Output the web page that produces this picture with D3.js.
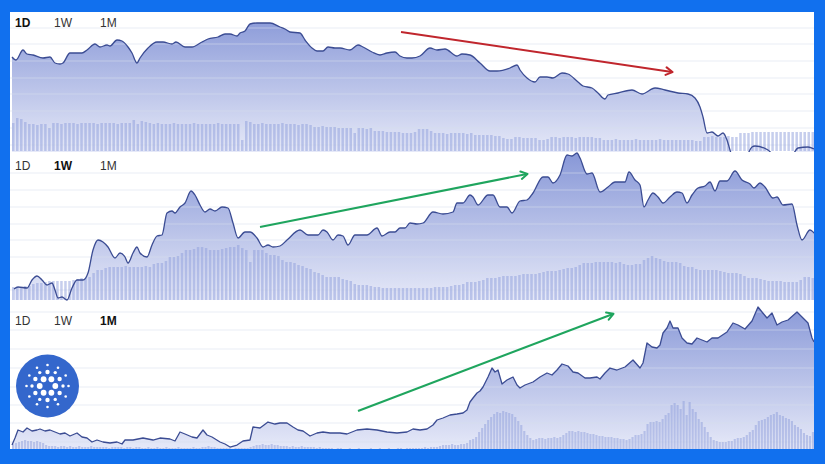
<!DOCTYPE html>
<html><head><meta charset="utf-8">
<script src="https://cdn.jsdelivr.net/npm/d3@7"></script>
<style>html,body{margin:0;padding:0;background:#1170ee;overflow:hidden}svg{display:block}</style>
</head><body>
<svg id="c" width="825" height="464"></svg>
<script>
// ---------- DATA (time in ticks of 1/802 of the period, values as read) ----------
const rangeLabels = ["1D", "1W", "1M"];

const dayT = [0,4,11,15,21,31,38,43,48,51,58,70,75,83,88,95,98,105,110,116,120,125,128,136,145,151,160,164,173,180,190,196,206,213,218,225,228,233,238,245,258,268,273,278,288,293,300,305,311,316,323,328,338,346,351,360,368,375,383,388,395,400,408,418,425,433,445,450,458,468,478,485,498,505,508,515,523,528,535,541,550,556,566,571,580,586,593,596,606,620,630,643,653,666,676,683,688,691,695,700,706,711,715,718,722,733,740,743,756,763,778,786,796,802];
const dayV = [95,92,102,98,97,94,95,89,88,89,99,99,102,108,105,107,106,112,111,105,99,89,94,104,110,110,108,110,105,105,110,113,115,118,118,116,119,121,128,129,129,125,123,120,119,112,104,101,101,105,104,104,102,107,105,100,97,99,100,96,94,94,96,104,102,103,96,98,97,89,81,81,84,87,82,74,70,75,75,74,79,78,70,66,64,59,53,57,59,62,58,64,62,59,58,54,45,35,19,20,16,19,12,2,-8,-6,5,6,2,-4,-6,4,5,3];
const dayVol = [28,33,32,29,27,27,26,27,27,23,28,28,27,28,28,28,27,28,28,28,28,27,28,28,28,28,27,28,28,28,31,27,30,29,28,27,28,27,27,27,28,27,27,27,27,28,27,27,27,27,27,28,27,27,27,27,27,11,30,29,27,27,28,27,27,27,27,28,27,27,27,26,27,27,26,24,24,25,24,24,24,23,23,23,23,18,23,23,22,23,20,20,20,19,19,19,19,18,18,18,19,22,22,22,20,18,18,18,17,18,18,18,18,17,18,16,16,16,16,16,15,15,13,12,12,14,14,13,13,13,13,11,11,12,14,14,13,14,14,14,13,14,14,14,14,13,13,11,11,11,12,11,11,11,11,12,11,11,11,11,11,12,11,11,11,11,11,11,11,11,10,10,14,14,15,14,14,14,15,14,14,18,18,18,19,19,19,19,19,19,19,19,19,19,19,19,19,19,19,19];
const dayGrid = [124,108,91,74,58,41,24,7];
const dayArrow = [[389,120],[660,80]];

const weekT = [2,6,15,20,25,30,35,40,43,46,50,55,60,65,71,76,81,86,91,96,103,108,113,116,121,125,128,135,140,145,150,155,160,163,168,173,179,183,188,193,198,203,210,216,221,226,233,238,245,251,256,261,268,275,288,296,301,306,311,315,321,326,331,336,343,348,355,365,370,378,383,388,393,398,405,411,421,431,441,445,451,458,461,466,476,481,488,495,500,508,515,521,531,536,541,548,555,560,565,568,575,580,588,596,603,613,617,623,628,632,636,641,646,651,658,665,670,675,680,686,693,698,703,708,715,723,730,738,742,748,753,761,765,771,780,785,790,798,803];
const weekV = [11,13,12,20,24,20,15,17,10,2,3,0,12,20,20,27,50,60,58,53,42,47,43,37,47,53,47,43,55,64,65,87,89,87,93,97,109,105,95,88,91,89,93,92,77,62,68,68,62,53,55,53,54,60,70,65,65,65,70,68,60,65,64,55,65,65,65,72,64,68,68,72,72,77,76,77,88,86,88,97,97,105,103,95,105,105,93,93,87,99,100,107,123,123,117,125,145,144,147,142,126,127,108,113,118,118,128,120,115,93,100,107,103,97,103,108,107,97,105,112,114,118,109,119,119,129,120,116,112,117,113,102,103,95,96,75,60,70,66];
const weekVol = [13,13,13,14,14,16,17,17,18,19,19,19,19,19,19,20,21,22,22,23,27,30,30,32,33,33,33,33,34,33,33,33,33,34,33,36,37,37,39,43,43,44,47,50,50,51,53,53,52,50,50,50,51,52,53,53,55,52,50,38,50,50,50,47,45,45,44,40,38,38,37,35,34,32,31,28,27,25,23,23,23,23,21,20,19,16,15,15,15,14,13,13,12,12,12,12,12,12,12,12,12,12,12,12,12,13,13,13,13,14,15,15,16,18,18,18,19,20,22,22,22,23,24,24,24,24,25,26,26,26,26,27,28,29,29,29,30,31,32,32,33,35,37,37,37,38,38,38,38,38,37,38,36,35,35,36,36,40,42,44,42,41,39,38,38,38,37,34,33,33,31,30,30,30,30,30,29,28,27,27,27,26,24,22,22,22,21,20,19,19,19,19,18,18,18,18,20,23,23,22];
const weekGrid = [127,110,93,76,60,43,27,10];
const weekArrow = [[248,73],[515,126]];

const monthT = [0,3,6,11,15,20,25,28,33,38,43,48,53,58,65,70,75,80,85,91,98,105,110,113,121,131,141,148,158,163,168,173,180,185,191,195,200,208,213,218,225,231,238,241,248,256,263,268,275,281,286,291,298,305,311,318,328,335,345,355,365,375,385,395,401,408,415,421,425,431,438,445,451,455,458,461,465,468,471,476,480,483,486,490,495,501,505,508,513,521,528,535,540,545,550,556,561,566,573,578,585,588,593,598,605,613,621,628,631,635,640,645,648,651,655,658,661,666,670,675,680,685,690,695,700,706,715,721,726,733,740,746,750,755,760,765,770,776,785,790,796,800,802];
const monthV = [4,11,19,17,21,18,19,20,18,19,17,15,16,13,16,12,11,7,9,7,6,7,5,9,9,11,9,11,10,8,17,15,12,11,19,14,12,7,5,2,4,8,9,22,21,27,25,26,26,22,19,18,13,16,17,16,16,15,19,20,19,17,16,17,20,19,20,24,29,31,34,35,36,39,47,51,56,58,62,72,81,77,79,65,69,72,64,61,64,67,72,76,74,79,85,83,77,76,71,71,72,70,76,81,79,82,89,81,86,106,102,101,104,116,121,128,121,121,111,106,105,111,109,107,111,111,117,126,124,120,128,142,137,131,136,124,127,129,137,132,126,111,107];
const monthVol = [5,6,7,8,9,8,8,7,8,7,6,4,3,3,3,2,3,3,2,3,2,2,3,2,2,2,3,2,2,2,2,2,1,2,2,2,2,1,2,2,1,2,2,1,1,2,1,1,2,1,1,2,1,1,1,2,1,1,1,1,2,1,1,2,2,3,2,2,1,1,1,1,1,0,1,1,1,1,1,2,3,4,4,5,4,4,5,4,4,3,3,3,2,3,2,2,3,2,2,2,2,1,2,1,1,1,1,0,1,1,0,0,1,0,0,1,0,0,0,1,0,0,1,0,0,1,0,0,1,1,0,1,1,1,1,1,1,2,1,2,2,2,3,4,4,4,5,4,4,5,5,6,9,10,12,17,21,25,29,32,35,37,36,38,37,36,35,32,28,24,18,14,11,9,10,11,11,10,11,11,12,11,12,14,16,18,18,17,18,17,17,16,15,15,14,13,13,12,12,12,11,11,10,10,9,10,12,14,14,15,18,25,27,27,28,27,30,34,36,44,46,44,40,48,34,47,40,37,30,27,22,17,12,9,8,7,7,7,8,8,10,11,11,12,14,17,19,24,28,29,30,32,34,35,37,34,33,31,30,28,24,22,20,16,14,13,17];
const monthGrid = [137,119,100,81,62,44,26,7];
const monthArrow = [[346,38],[601,135]];

// ---------- LAYOUT ----------
const W = 825, H = 464;
const inner = {x0: 10, y0: 12, x1: 814, y1: 449};
const panels = [
  {t: dayT,   v: dayV,   vol: dayVol,   grid: dayGrid,   arrow: dayArrow,   arrowColor: "#c0262d", top: 12,  bottom: 152, base: 152, volBase: 151, textY: 27,  bold: 0, curve: d3.curveMonotoneX, pad: 0.38},
  {t: weekT,  v: weekV,  vol: weekVol,  grid: weekGrid,  arrow: weekArrow,  arrowColor: "#1fa55e", top: 152, bottom: 301, base: 300, volBase: 300, textY: 170, bold: 1, curve: d3.curveMonotoneX, pad: 0.38},
  {t: monthT, v: monthV, vol: monthVol, grid: monthGrid, arrow: monthArrow, arrowColor: "#1fa55e", top: 302, bottom: 449, base: 449, volBase: 449, textY: 325, bold: 2, curve: d3.curveLinear, pad: 0.3}
];
const labelX = [15, 54, 100];

const svg = d3.select("#c");
const defs = svg.append("defs");
svg.append("rect").attr("width", W).attr("height", H).attr("fill", "#1170ee");
svg.append("rect").attr("x", inner.x0).attr("y", inner.y0)
   .attr("width", inner.x1 - inner.x0).attr("height", inner.y1 - inner.y0).attr("fill", "#ffffff");

const x = d3.scaleLinear().domain([0, 802]).range([12, 814]);

panels.forEach((p, k) => {
  defs.append("clipPath").attr("id", "clip" + k).append("rect")
    .attr("x", inner.x0).attr("y", p.top).attr("width", inner.x1 - inner.x0).attr("height", p.bottom - p.top);
  const lg = defs.append("linearGradient").attr("id", "grad" + k)
    .attr("gradientUnits", "userSpaceOnUse").attr("x1", 0).attr("x2", 0).attr("y1", p.top).attr("y2", p.base);
  lg.append("stop").attr("offset", 0).attr("stop-color", "#8797d7");
  lg.append("stop").attr("offset", 1).attr("stop-color", "#e6e9f8");

  const g = svg.append("g").attr("clip-path", `url(#clip${k})`);
  const y = d3.scaleLinear().domain([0, 140]).range([p.base, p.base - 140]);
  const yv = d3.scaleLinear().domain([0, 140]).range([p.volBase, p.volBase - 140]);
  const pts = p.t.map((t, i) => [t, p.v[i]]);

  g.append("path").datum(pts)
    .attr("d", d3.area().x(d => x(d[0])).y0(y(0)).y1(d => y(d[1])).curve(p.curve))
    .attr("fill", `url(#grad${k})`);

  g.selectAll("line.grid").data(p.grid).join("line")
    .attr("x1", inner.x0).attr("x2", inner.x1)
    .attr("y1", d => y(d)).attr("y2", d => y(d))
    .attr("stroke", "#d9deec").attr("stroke-opacity", 0.55).attr("stroke-width", 1);

  const band = d3.scaleBand().domain(d3.range(p.vol.length)).range([12, 814]).paddingInner(p.pad);
  g.selectAll("rect.vol").data(p.vol).join("rect")
    .attr("x", (d, i) => band(i)).attr("width", band.bandwidth())
    .attr("y", d => yv(d)).attr("height", d => yv(0) - yv(d))
    .attr("fill", "#8e9ddc").attr("fill-opacity", 0.5);

  g.append("path").datum(pts)
    .attr("d", d3.line().x(d => x(d[0])).y(d => y(d[1])).curve(p.curve))
    .attr("fill", "none").attr("stroke", "#3b4c93").attr("stroke-width", 1.3).attr("stroke-linejoin", "round");

  // labels
  svg.selectAll(null).data(rangeLabels).join("text")
    .attr("x", (d, i) => labelX[i]).attr("y", p.textY)
    .attr("font-family", "'Liberation Sans', Arial, sans-serif").attr("font-size", 12)
    .attr("font-weight", (d, i) => i === p.bold ? 700 : 400)
    .attr("fill", (d, i) => i === p.bold ? "#111" : "#333")
    .text(d => d);

  // trend arrow
  const mid = "arr" + k;
  defs.append("marker").attr("id", mid).attr("viewBox", "0 0 10 10").attr("refX", 8).attr("refY", 5)
    .attr("markerUnits", "userSpaceOnUse").attr("markerWidth", 10).attr("markerHeight", 10).attr("orient", "auto")
    .append("path").attr("d", "M2,1.2 L8.5,5 L2,8.8").attr("fill", "none")
    .attr("stroke", p.arrowColor).attr("stroke-width", 2).attr("stroke-linecap", "round").attr("stroke-linejoin", "round");
  svg.append("line")
    .attr("x1", x(p.arrow[0][0])).attr("y1", y(p.arrow[0][1]))
    .attr("x2", x(p.arrow[1][0])).attr("y2", y(p.arrow[1][1]))
    .attr("stroke", p.arrowColor).attr("stroke-width", 2).attr("marker-end", `url(#${mid})`);
});

// Cardano logo
const logo = {cx: 47.5, cy: 386, r: 31.5};
const rings = [
  {n: 6, rad: 7.8, size: 2.9, off: 0},
  {n: 6, rad: 14, size: 2.2, off: 30},
  {n: 6, rad: 15.5, size: 1.7, off: 0},
  {n: 12, rad: 21, size: 1.3, off: 0}
];
const lg = svg.append("g").attr("transform", `translate(${logo.cx},${logo.cy})`);
lg.append("circle").attr("r", logo.r).attr("fill", "#3467cc");
rings.forEach(rg => {
  lg.selectAll(null).data(d3.range(rg.n)).join("circle")
    .attr("cx", i => rg.rad * Math.cos((rg.off + i * 360 / rg.n) * Math.PI / 180))
    .attr("cy", i => rg.rad * Math.sin((rg.off + i * 360 / rg.n) * Math.PI / 180))
    .attr("r", rg.size).attr("fill", "#fff");
});
</script>
</body></html>
